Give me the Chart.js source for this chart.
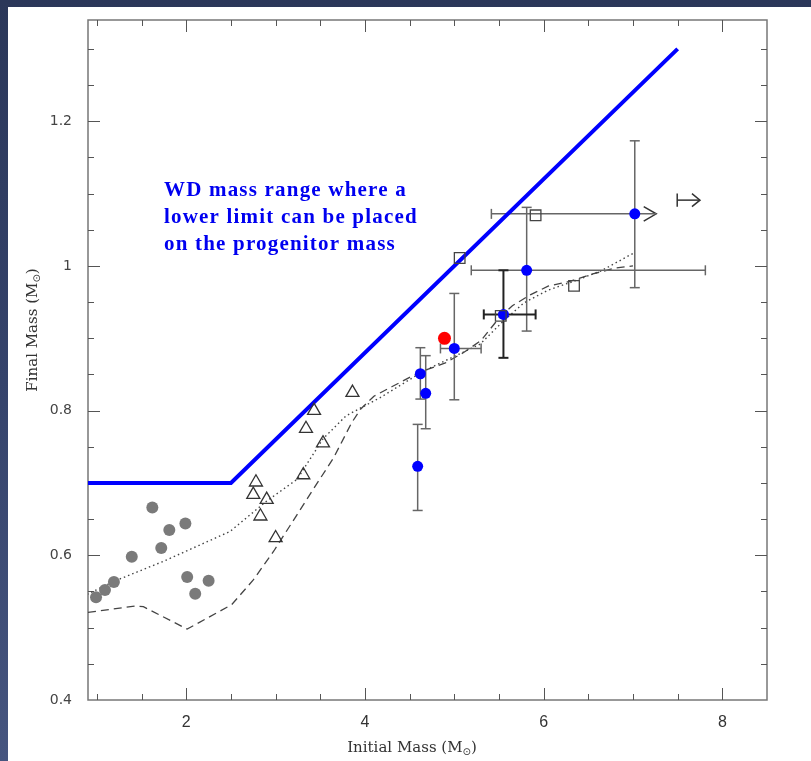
<!DOCTYPE html>
<html>
<head>
<meta charset="utf-8">
<title>Initial-final mass relation</title>
<script src="https://cdn.jsdelivr.net/npm/chart.js@4.4.1/dist/chart.umd.min.js"></script>
<style>
    html, body { margin: 0; padding: 0; }
    body {
        width: 811px; height: 761px; overflow: hidden; position: relative;
        background: linear-gradient(180deg, #2b3759 0%, #35436b 50%, #46557f 100%);
    }
    #wrap { position: absolute; left: 8px; top: 7px; width: 803px; height: 754px; background: #fff; }
</style>
</head>
<body>
<div id="wrap"><canvas id="ifmrChart" width="803" height="754"></canvas></div>
<script>
// --- Values ---
const xTicks = [2, 4, 6, 8];
const yTicks = [0.4, 0.6, 0.8, 1.0, 1.2];
const yTickLabels = ['0.4', '0.6', '0.8', '1', '1.2'];

// limit above which a lower limit on the progenitor mass can be placed
const limitX = [0.9, 2.5, 7.5];
const limitY = [0.70, 0.70, 1.30];

// low-mass WDs (grey dots)
const fieldX = [0.99, 1.09, 1.19, 1.39, 1.62, 1.72, 1.81, 1.99, 2.01, 2.10, 2.25];
const fieldY = [0.542, 0.552, 0.563, 0.598, 0.666, 0.610, 0.635, 0.644, 0.570, 0.547, 0.565];

// cluster WDs (open triangles)
const triX = [2.75, 2.78, 2.83, 2.90, 3.00, 3.31, 3.34, 3.43, 3.53, 3.86];
const triY = [0.684, 0.701, 0.654, 0.677, 0.624, 0.711, 0.775, 0.800, 0.755, 0.825];

// massive WDs with error bars (blue dots)
const wdX   = [4.59, 4.62, 4.68, 5.00, 5.55, 5.81, 7.02];
const wdY   = [0.723, 0.851, 0.824, 0.886, 0.933, 0.994, 1.072];
const wdYLo = [0.662, 0.816, 0.775, 0.815, 0.873, 0.910, 0.970];
const wdYHi = [0.781, 0.887, 0.876, 0.962, 0.994, 1.081, 1.173];
const wdXLo = [null, null, null, 4.845, 5.33, 5.19, 5.415];
const wdXHi = [null, null, null, 5.30, 5.91, 7.81, 7.26];

// new object (red dot)
const newX = [4.89];
const newY = [0.900];

// open squares
const sqX = [5.06, 5.52, 5.91, 6.34];
const sqY = [1.011, 0.931, 1.070, 0.9725];

// model relations
const dashX = [0.9, 1.43, 1.52, 2.01, 2.51, 2.75, 2.98, 3.43, 3.65, 3.85, 3.95, 4.1, 4.3, 4.5, 4.7, 4.9, 5.1, 5.3, 5.5, 5.65, 5.85, 6.05, 6.3, 6.55, 6.8, 7.0];
const dashY = [0.521, 0.530, 0.529, 0.498, 0.532, 0.566, 0.606, 0.693, 0.735, 0.783, 0.802, 0.820, 0.833, 0.846, 0.857, 0.866, 0.880, 0.897, 0.928, 0.945, 0.960, 0.972, 0.979, 0.989, 0.997, 1.000];
const dotX = [0.89, 1.19, 1.75, 2.49, 2.9, 3.24, 3.53, 3.79, 4.17, 4.66, 5.29, 5.55, 5.78, 6.04, 6.34, 6.64, 7.01];
const dotY = [0.546, 0.564, 0.592, 0.633, 0.675, 0.705, 0.761, 0.793, 0.818, 0.855, 0.892, 0.924, 0.949, 0.966, 0.979, 0.993, 1.018];

// lower-limit arrow heads
const arrowX = [7.12, 7.26, 7.12];
const arrowY = [1.082, 1.072, 1.062];
const keyBarX = [7.495, 7.495];
const keyBarY = [1.082, 1.100];
const keyLineX = [7.495, 7.75];
const keyLineY = [1.091, 1.091];
const keyHeadX = [7.66, 7.75, 7.66];
const keyHeadY = [1.100, 1.091, 1.082];

const pts = (xs, ys) => xs.map((x, i) => ({ x: x, y: ys[i] }));

function line(xs, ys, color, width, extra) {
    return Object.assign({
        type: 'line', data: pts(xs, ys), showLine: true, fill: false,
        borderColor: color, borderWidth: width, pointRadius: 0, tension: 0, order: 3
    }, extra || {});
}

// --- Error bars, one dataset per bar ---
const errorSets = [];
wdX.forEach((x, i) => {
    const thick = i === 4;
    const col = thick ? '#222' : '#666';
    const w = thick ? 2 : 1.5;
    errorSets.push(line([x, x], [wdYLo[i], wdYHi[i]], col, w, {
        pointStyle: 'line', pointRadius: 5, pointBorderColor: col, pointBorderWidth: w, order: 2
    }));
    if (wdXLo[i] !== null) {
        errorSets.push(line([wdXLo[i], wdXHi[i]], [wdY[i], wdY[i]], col, w, {
            pointStyle: 'line', pointRotation: 90, pointBorderColor: col, pointBorderWidth: w,
            pointRadius: i === 6 ? [5, 0] : 5, order: 2
        }));
    }
});

const datasets = [
    line(limitX, limitY, '#0000ff', 4, { order: 1 }),
    line(dashX, dashY, '#444', 1.3, { borderDash: [8, 5] }),
    line(dotX, dotY, '#444', 1.4, { borderDash: [1.5, 3] }),
    ...errorSets,
    line(arrowX, arrowY, '#333', 1.5, { order: 2 }),
    line(keyBarX, keyBarY, '#333', 1.5, { order: 2 }),
    line(keyLineX, keyLineY, '#333', 1.5, { order: 2 }),
    line(keyHeadX, keyHeadY, '#333', 1.5, { order: 2 }),
    { label: 'Low mass', data: pts(fieldX, fieldY), pointRadius: 6, pointBackgroundColor: '#7a7a7a', pointBorderWidth: 0, order: 0 },
    { label: 'Clusters', data: pts(triX, triY), pointStyle: 'triangle', pointRadius: 7.5, pointBackgroundColor: 'rgba(0,0,0,0)', pointBorderColor: '#333', pointBorderWidth: 1.3, order: 0 },
    { label: 'Squares', data: pts(sqX, sqY), pointStyle: 'rect', pointRadius: 7.5, pointBackgroundColor: 'rgba(0,0,0,0)', pointBorderColor: '#444', pointBorderWidth: 1.3, order: 0 },
    { label: 'Massive WDs', data: pts(wdX, wdY), pointRadius: 5.5, pointBackgroundColor: '#0000ff', pointBorderWidth: 0, order: 0 },
    { label: 'New', data: pts(newX, newY), pointRadius: 6.5, pointBackgroundColor: '#ff0000', pointBorderWidth: 0, order: 0 }
];

// --- Frame with inward ticks, axis titles and annotation ---
const framePlugin = {
    id: 'frame',
    beforeDatasetsDraw(chart) {
        const { ctx, chartArea: a, scales: { x, y } } = chart;
        ctx.save();
        ctx.strokeStyle = '#777';
        ctx.lineWidth = 1.5;
        ctx.strokeRect(a.left, a.top, a.right - a.left, a.bottom - a.top);
        ctx.lineWidth = 1;
        ctx.strokeStyle = '#555';
        ctx.beginPath();
        for (let v = 1; v <= 8.01; v += 0.5) {
            const px = Math.round(x.getPixelForValue(v)) + 0.5;
            const len = xTicks.includes(Math.round(v * 10) / 10) ? 12 : 6;
            ctx.moveTo(px, a.bottom); ctx.lineTo(px, a.bottom - len);
            ctx.moveTo(px, a.top); ctx.lineTo(px, a.top + len);
        }
        for (let k = 9; k <= 26; k++) {
            const v = k * 0.05;
            const py = Math.round(y.getPixelForValue(v)) + 0.5;
            const len = k % 4 === 0 ? 12 : 6;
            ctx.moveTo(a.left, py); ctx.lineTo(a.left + len, py);
            ctx.moveTo(a.right, py); ctx.lineTo(a.right - len, py);
        }
        ctx.stroke();
        ctx.restore();
    },
    afterDraw(chart) {
        const { ctx, scales: { x, y } } = chart;
        ctx.save();
        // annotation
        ctx.fillStyle = '#0000f0';
        ctx.font = 'bold 21px "Liberation Serif", "Times New Roman", serif';
        if ('letterSpacing' in ctx) ctx.letterSpacing = '1.2px';
        ctx.textBaseline = 'alphabetic';
        ctx.textAlign = 'left';
        const tx = x.getPixelForValue(1.75);
        const lines = ['WD mass range where a', 'lower limit can be placed', 'on the progenitor mass'];
        lines.forEach((t, i) => ctx.fillText(t, tx, y.getPixelForValue(1.097) + i * 27));
        if ('letterSpacing' in ctx) ctx.letterSpacing = '0px';

        // axis titles with subscript sun symbol
        const drawTitle = (main, cx, cy, rot) => {
            ctx.save();
            ctx.translate(cx, cy);
            ctx.rotate(rot);
            ctx.fillStyle = '#333';
            ctx.textBaseline = 'alphabetic';
            ctx.textAlign = 'left';
            ctx.font = '15px "DejaVu Serif", serif';
            const w1 = ctx.measureText(main).width;
            const w3 = ctx.measureText(')').width;
            ctx.font = '10px "DejaVu Sans", sans-serif';
            const w2 = ctx.measureText('\u2299').width;
            const sx = -(w1 + w2 + w3) / 2;
            ctx.font = '15px "DejaVu Serif", serif';
            ctx.fillText(main, sx, 5);
            ctx.fillText(')', sx + w1 + w2, 5);
            ctx.font = '10px "DejaVu Sans", sans-serif';
            ctx.fillText('\u2299', sx + w1, 8);
            ctx.restore();
        };
        drawTitle('Initial Mass (M', 404, 740, 0);
        drawTitle('Final Mass (M', 24, 323, -Math.PI / 2);
        ctx.restore();
    }
};

new Chart(document.getElementById('ifmrChart'), {
    type: 'scatter',
    data: { datasets: datasets },
    options: {
        responsive: false,
        animation: false,
        events: [],
        layout: { padding: { left: 0, top: 13, right: 44, bottom: 0 } },
        plugins: { legend: { display: false }, tooltip: { enabled: false } },
        scales: {
            x: {
                type: 'linear', min: 0.9, max: 8.5,
                grid: { display: false, drawTicks: false },
                border: { display: false },
                afterBuildTicks: s => { s.ticks = xTicks.map(v => ({ value: v })); },
                afterFit: s => { s.height = 61; s.paddingLeft = 0; s.paddingRight = 0; },
                ticks: { padding: 13, color: '#333', font: { family: '"Liberation Sans", Arial, sans-serif', size: 16 } }
            },
            y: {
                type: 'linear', min: 0.4, max: 1.34,
                grid: { display: false, drawTicks: false },
                border: { display: false },
                afterBuildTicks: s => { s.ticks = yTicks.map(v => ({ value: v })); },
                afterFit: s => { s.width = 80; s.paddingTop = 0; s.paddingBottom = 0; },
                ticks: {
                    padding: 16, color: '#444',
                    font: { family: '"DejaVu Sans", sans-serif', size: 14 },
                    callback: (v, i) => yTickLabels[i]
                }
            }
        }
    },
    plugins: [framePlugin]
});
</script>
</body>
</html>
